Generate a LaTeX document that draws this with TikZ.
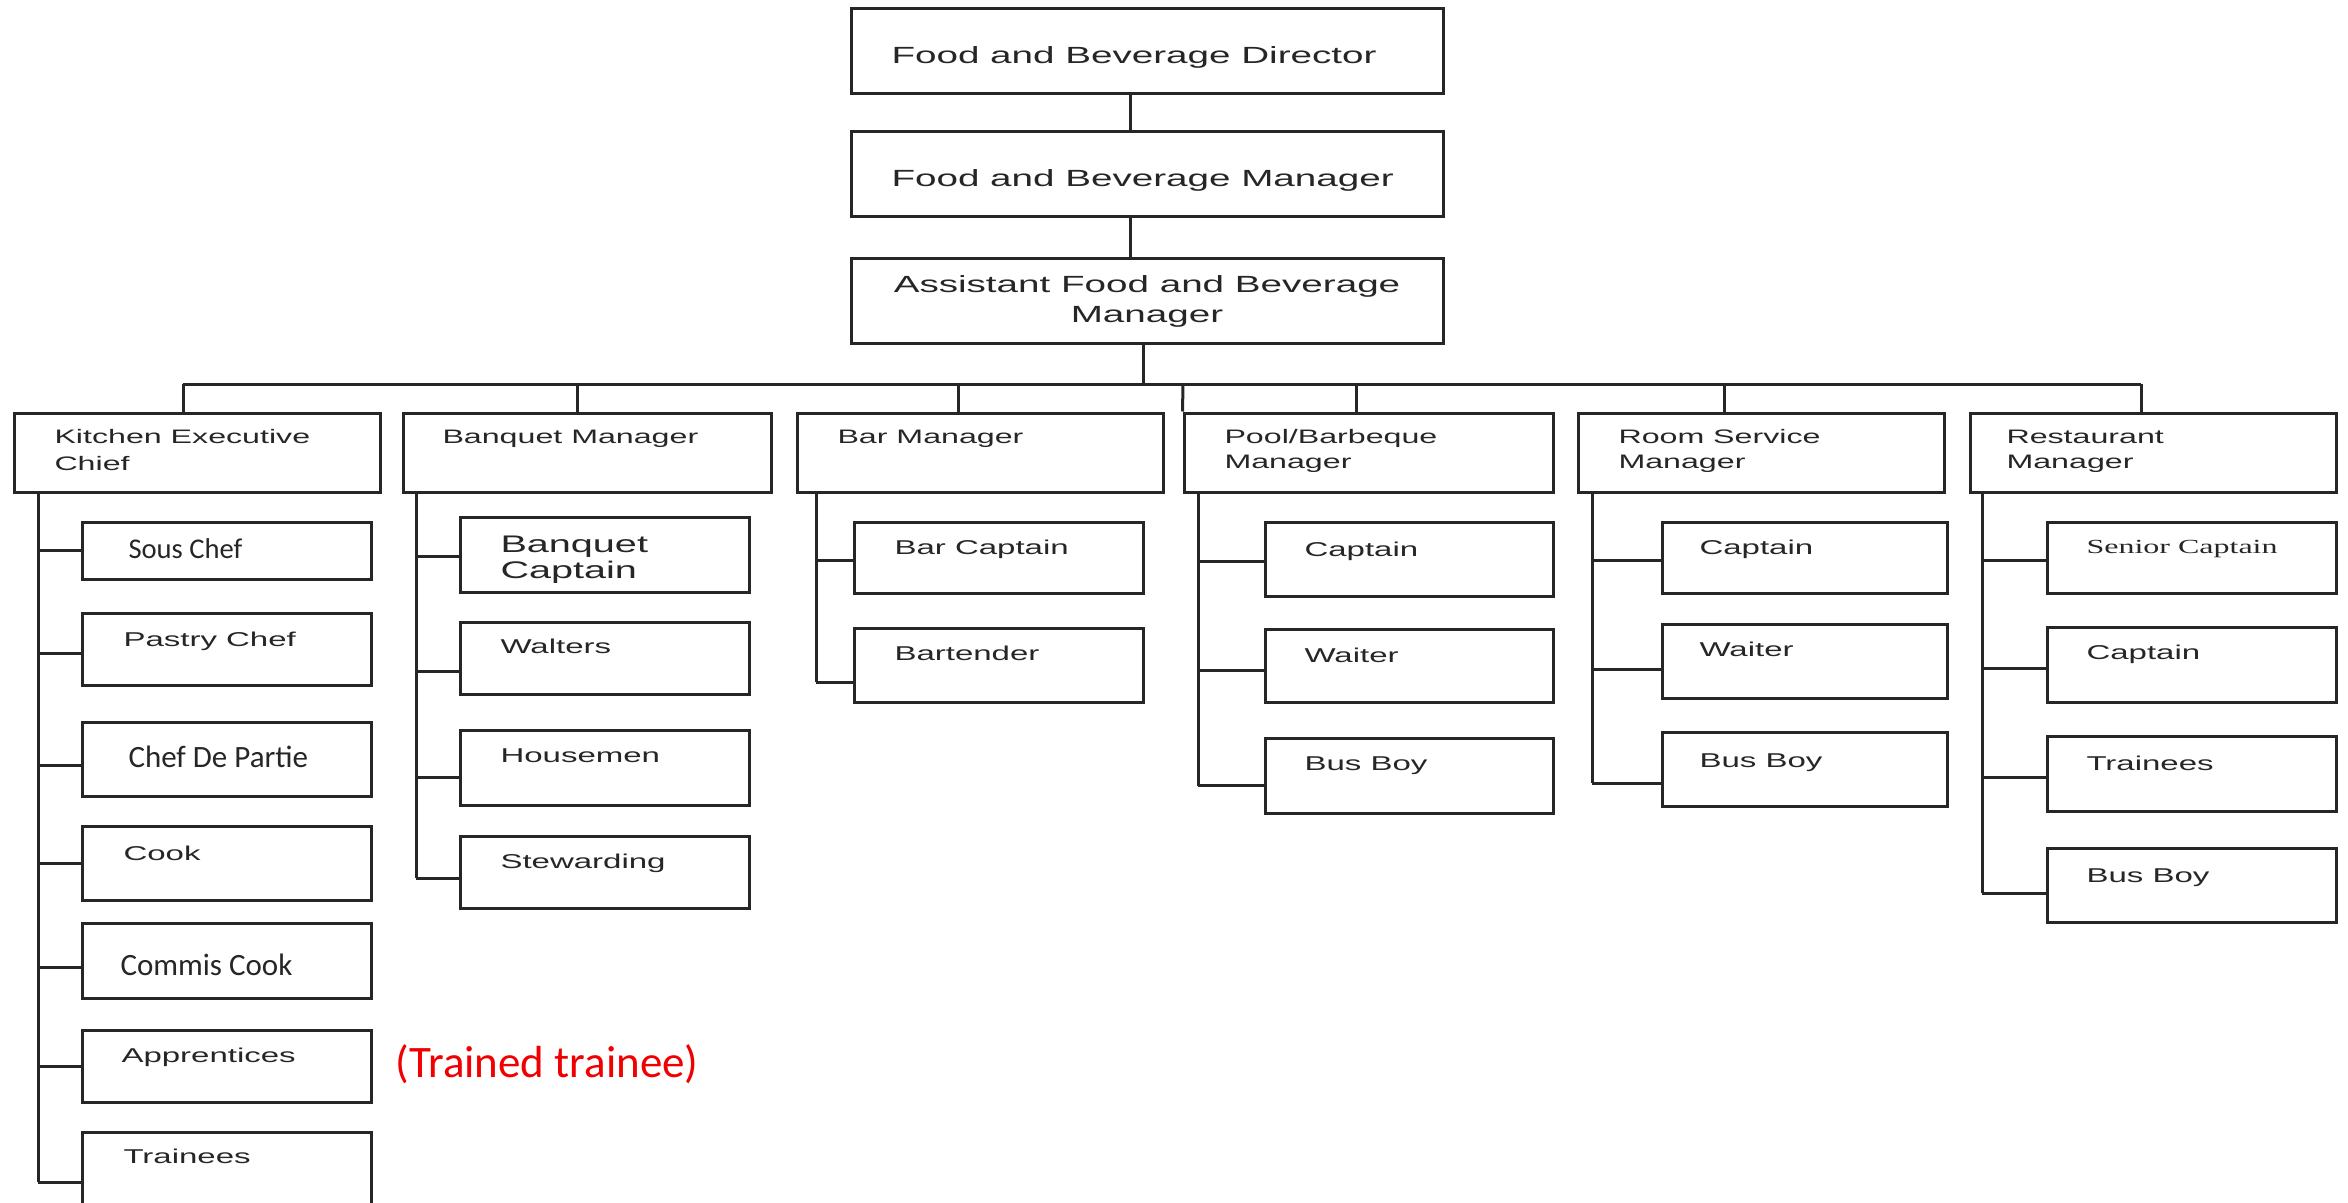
\documentclass[tikz,border=0pt]{standalone}
\usepackage{fontspec}
\usetikzlibrary{fit}
\newfontfamily\wideface{Liberation Sans}[FakeStretch=1.65]
\newfontfamily\wideserif{Liberation Serif}[FakeStretch=1.6]
\newfontfamily\calface{Carlito}
\definecolor{ink}{HTML}{262626}
\definecolor{notered}{HTML}{F00000}
\begin{document}
\begin{tikzpicture}[x=0.5pt, y=-0.5pt, line width=1.5pt, draw=ink,
  box/.style={draw=ink, inner sep=0pt, fit={#1}},
  txt/.style={anchor=base west, inner sep=0pt, text=ink, align=left, font=\wideface\fontsize{10pt}{13pt}\selectfont},
  head/.style={txt, font=\wideface\fontsize{9.75pt}{12.5pt}\selectfont},
  big/.style={txt, font=\wideface\fontsize{11.7pt}{15pt}\selectfont},
  cal/.style={txt, font=\calface\fontsize{15.5pt}{18pt}\selectfont}]
      \useasboundingbox (0,0) rectangle (2348,1203);
      \clip (0,0) rectangle (2348,1203);
      \node[box={(851,9) (1443,94)}] (dir){};
      \node[box={(851,132) (1443,217)}] (mgr){};
      \node[box={(851,259) (1443,344)}] (ast){};
      \node[big] at (890,64) (dirT){Food and Beverage Director};
      \node[big] at (890,187) (mgrT){Food and Beverage Manager};
      \node[big, anchor=base, align=center] at (1147,323) (astT){Assistant Food and Beverage\\Manager};
      \draw ([xshift=-8.5pt]dir.south) -- ([xshift=-8.5pt]mgr.north);
      \draw ([xshift=-8.5pt]mgr.south) -- ([xshift=-8.5pt]ast.north);
      \coordinate (hub) at (1143,384);
      \coordinate (dk) at (183,384);
      \coordinate (db) at (577,384);
      \coordinate (dr) at (958,384);
      \coordinate (dp0) at (1183,384);
      \coordinate (dp) at (1356,384);
      \coordinate (ds) at (1724,384);
      \coordinate (dt) at (2141,384);
      \draw (ast.south -| hub) -- (hub);
      \draw (dk) -- (dt);
      \node[box={(14,413) (380,492)}] (kit){};
      \node[box={(403,413) (771,492)}] (banq){};
      \node[box={(797,413) (1163,492)}] (bar){};
      \node[box={(1184,413) (1553,492)}] (pool){};
      \node[box={(1578,413) (1944,492)}] (room){};
      \node[box={(1970,413) (2336,492)}] (rest){};
      \foreach \d/\b in {dk/kit, db/banq, dr/bar, dp/pool, ds/room, dt/rest}
        \draw (\d) -- (\d |- \b.north);
      \draw (dp0) -- (pool.north west);
      \node[head, font=\wideface\fontsize{9.75pt}{13.5pt}\selectfont] at (53,470) (kitT){Kitchen Executive\\Chief};
      \node[head] at (441,443) (banqT){Banquet Manager};
      \node[head] at (836,443) (barT){Bar Manager};
      \node[head] at (1223,468) (poolT){Pool/Barbeque\\Manager};
      \node[head] at (1617,468) (roomT){Room Service\\Manager};
      \node[head] at (2005,468) (restT){Restaurant\\Manager};
      \node[box={(82,522) (371,579)}] (sous){};
      \node[box={(82,613) (371,685)}] (pas){};
      \node[box={(82,722) (371,796)}] (cdp){};
      \node[box={(82,826) (371,900)}] (cook){};
      \node[box={(82,923) (371,998)}] (com){};
      \node[box={(82,1030) (371,1102)}] (app){};
      \node[box={(82,1132) (371,1212)}] (ktr){};
      \node[cal, font=\calface\fontsize{14.3pt}{17pt}\selectfont] at (127,558) (sousT){Sous Chef};
      \node[txt] at (122,646) (pasT){Pastry Chef};
      \node[cal] at (127,767) (cdpT){Chef De Partie};
      \node[txt] at (122,860) (cookT){Cook};
      \node[cal] at (119,975) (comT){Commis Cook};
      \node[txt] at (120,1062) (appT){Apprentices};
      \node[txt] at (122,1163) (ktrT){Trainees};
      \node[cal, text=notered, font=\calface\fontsize{22.5pt}{26pt}\selectfont] at (394,1077) (note){(Trained trainee)};
      \coordinate (ks) at (38,492);
      \foreach \n/\s in {sous/0, pas/-2, cdp/-3, cook/0, com/-3.5, app/0, ktr/-5}{
        \coordinate (c\n) at ([yshift=\s pt]\n.west);
        \draw (ks |- c\n) -- (c\n);}
      \draw (ks) -- (ks |- cktr);
      \node[box={(460,517) (749,592)}] (bcap){};
      \node[box={(460,622) (749,694)}] (walt){};
      \node[box={(460,730) (749,805)}] (hous){};
      \node[box={(460,836) (749,908)}] (stew){};
      \node[txt, font=\wideface\fontsize{12pt}{13pt}\selectfont] at (499,578) (bcapT){Banquet\\Captain};
      \node[txt] at (499,653) (waltT){Walters};
      \node[txt] at (499,762) (housT){Housemen};
      \node[txt] at (499,868) (stewT){Stewarding};
      \coordinate (bs) at (416,492);
      \foreach \n/\s in {bcap/-1, walt/-6.5, hous/-5, stew/-3}{
        \coordinate (c\n) at ([yshift=\s pt]\n.west);
        \draw (bs |- c\n) -- (c\n);}
      \draw (bs) -- (bs |- cstew);
      \node[box={(854,522) (1143,593)}] (bcp){};
      \node[box={(854,628) (1143,702)}] (btd){};
      \node[txt] at (893,554) (bcpT){Bar Captain};
      \node[txt] at (893,660) (btdT){Bartender};
      \coordinate (rs) at (816,492);
      \foreach \n/\s in {bcp/-1.5, btd/-8.5}{
        \coordinate (c\n) at ([yshift=\s pt]\n.west);
        \draw (rs |- c\n) -- (c\n);}
      \draw (rs) -- (rs |- cbtd);
      \node[box={(1265,522) (1553,596)}] (pcap){};
      \node[box={(1265,629) (1553,702)}] (pwai){};
      \node[box={(1265,738) (1553,813)}] (pbus){};
      \node[txt] at (1303,556) (pcapT){Captain};
      \node[txt] at (1303,662) (pwaiT){Waiter};
      \node[txt] at (1303,770) (pbusT){Bus Boy};
      \coordinate (ps) at (1198,492);
      \foreach \n/\s in {pcap/-1, pwai/-2.5, pbus/-5}{
        \coordinate (c\n) at ([yshift=\s pt]\n.west);
        \draw (ps |- c\n) -- (c\n);}
      \draw (ps) -- (ps |- cpbus);
      \node[box={(1662,522) (1947,593)}] (rcap){};
      \node[box={(1662,624) (1947,698)}] (rwai){};
      \node[box={(1662,732) (1947,806)}] (rbus){};
      \node[txt] at (1698,554) (rcapT){Captain};
      \node[txt] at (1698,656) (rwaiT){Waiter};
      \node[txt] at (1698,767) (rbusT){Bus Boy};
      \coordinate (ss) at (1592,492);
      \foreach \n/\s in {rcap/-1.5, rwai/-4, rbus/-7}{
        \coordinate (c\n) at ([yshift=\s pt]\n.west);
        \draw (ss |- c\n) -- (c\n);}
      \draw (ss) -- (ss |- crbus);
      \node[box={(2047,522) (2336,593)}] (scap){};
      \node[box={(2047,627) (2336,702)}] (tcap){};
      \node[box={(2047,736) (2336,811)}] (ttr){};
      \node[box={(2047,848) (2336,922)}] (tbus){};
      \node[txt, font=\wideserif\fontsize{10pt}{13pt}\selectfont] at (2085,553) (scapT){Senior Captain};
      \node[txt] at (2085,659) (tcapT){Captain};
      \node[txt] at (2085,770) (ttrT){Trainees};
      \node[txt] at (2085,882) (tbusT){Bus Boy};
      \coordinate (ts) at (1982,492);
      \foreach \n/\s in {scap/-1.5, tcap/-2, ttr/-2, tbus/-4}{
        \coordinate (c\n) at ([yshift=\s pt]\n.west);
        \draw (ts |- c\n) -- (c\n);}
      \draw (ts) -- (ts |- ctbus);
\end{tikzpicture}
\end{document}
